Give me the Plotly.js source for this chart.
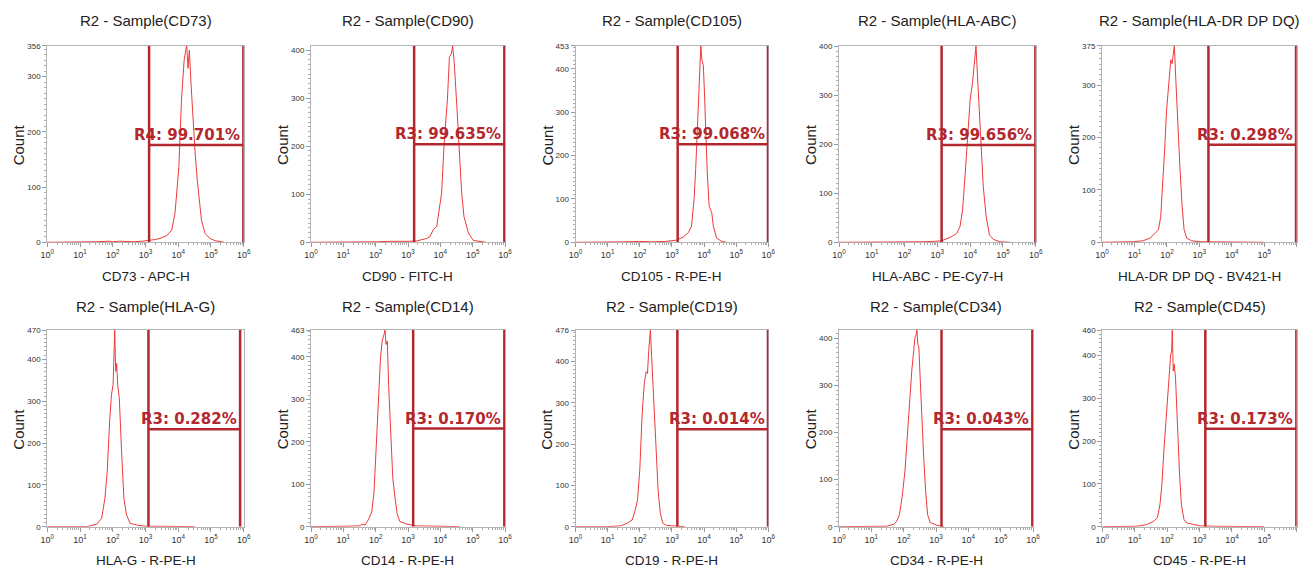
<!DOCTYPE html>
<html><head><meta charset="utf-8">
<script src="https://cdn.plot.ly/plotly-3.0.1.min.js"></script>
<style>html,body{margin:0;padding:0;background:#fff}#chart{width:1302px;height:570px}</style>
</head><body><div id="chart"></div>
<script>
// ---------- data ----------
const panelTitles = ['R2 - Sample(CD73)','R2 - Sample(CD90)','R2 - Sample(CD105)','R2 - Sample(HLA-ABC)','R2 - Sample(HLA-DR DP DQ)',
  'R2 - Sample(HLA-G)','R2 - Sample(CD14)','R2 - Sample(CD19)','R2 - Sample(CD34)','R2 - Sample(CD45)'];
const axisTitles = ['CD73 - APC-H','CD90 - FITC-H','CD105 - R-PE-H','HLA-ABC - PE-Cy7-H','HLA-DR DP DQ - BV421-H',
  'HLA-G - R-PE-H','CD14 - R-PE-H','CD19 - R-PE-H','CD34 - R-PE-H','CD45 - R-PE-H'];
const yAxisTitle = 'Count';
const gateLabels = ['R4: 99.701%','R3: 99.635%','R3: 99.068%','R3: 99.656%','R3: 0.298%',
  'R3: 0.282%','R3: 0.170%','R3: 0.014%','R3: 0.043%','R3: 0.173%'];
const gateLeftLog  = [3.11, 3.19, 3.18, 3.13, 3.28, 3.09, 3.16, 3.17, 3.17, 3.18];
const gateRightLog = [5.99, 5.98, 5.99, 5.99, 5.98, 5.89, 5.98, 5.99, 5.98, 5.99];
const gateLevel    = [176, 204, 226, 199, 186, 233, 231, 236, 207, 229];
const yTop         = [356, 409, 453, 402, 375, 470, 463, 476, 418, 460];
const yTopShown    = [true, false, true, false, true, true, true, true, false, true];
const yTickValues  = [0, 100, 200, 300, 400];
const xTickValues  = [1, 10, 100, 1000, 10000, 100000, 1000000];
const xTickLabels  = ['10<sup>0</sup>','10<sup>1</sup>','10<sup>2</sup>','10<sup>3</sup>','10<sup>4</sup>','10<sup>5</sup>','10<sup>6</sup>'];

// histogram traces: log10 intensity vs count
const cd73Log   = [0,0.5,1.0,1.5,1.9,2.0,2.2,2.4,2.63,2.9,3.14,3.3,3.44,3.55,3.65,3.8,3.9,3.97,4.02,4.10,4.18,4.23,4.26,4.30,4.34,4.39,4.44,4.51,4.58,4.66,4.71,4.82,4.97,5.12,5.28,5.4];
const cd73Count = [0,0,0,1,2,1,2,1,1,2,3,5,7,9,12,22,52,101,137,258,330,348,356,315,348,288,228,167,113,65,40,16,7,3,1,0];
const cd90Log   = [0,0.5,1.0,1.5,2.03,2.4,2.8,3.0,3.27,3.45,3.58,3.68,3.78,3.89,4.04,4.12,4.22,4.28,4.34,4.38,4.43,4.51,4.59,4.66,4.73,4.80,4.87,5.02,5.23,5.4];
const cd90Count = [0,0,0,1,1,2,1,2,3,5,8,12,26,33,103,207,298,385,392,409,374,284,193,103,54,35,19,4,1,0];
const cd105Log   = [0,0.5,1.0,1.5,2.0,2.4,2.8,3.0,3.15,3.35,3.51,3.61,3.69,3.74,3.79,3.82,3.85,3.88,3.90,3.93,3.98,4.02,4.06,4.10,4.16,4.24,4.29,4.39,4.55,4.7];
const cd105Count = [0,0,1,1,2,1,2,3,5,12,22,37,99,168,253,330,376,430,453,422,407,330,237,160,83,68,37,10,2,0];
const hlaAbcLog   = [0,0.5,1.0,1.5,2.0,2.57,2.9,3.13,3.39,3.59,3.69,3.77,3.85,3.92,4.00,4.07,4.12,4.16,4.18,4.21,4.26,4.33,4.40,4.49,4.59,4.71,4.91,5.22];
const hlaAbcCount = [0,0,0,1,1,1,2,3,10,18,32,66,141,223,291,325,359,393,402,359,291,202,114,52,15,6,1,0];
const hlaDrLog   = [0,0.5,0.97,1.27,1.48,1.63,1.74,1.81,1.87,1.93,1.99,2.06,2.12,2.16,2.20,2.23,2.28,2.34,2.40,2.47,2.53,2.61,2.76,3.02,3.5,4.0,4.5,4.87,5.0];
const hlaDrCount = [0,0,1,3,8,17,24,49,106,176,252,303,348,341,367,375,303,208,144,68,24,8,3,1,1,0,1,1,0];
const hlaGLog   = [0,0.5,1.0,1.2,1.51,1.66,1.76,1.83,1.91,1.96,2.01,2.04,2.06,2.09,2.12,2.15,2.20,2.27,2.34,2.42,2.53,2.73,3.03,3.5,4.0,4.5];
const hlaGCount = [0,0,1,0,6,20,68,131,259,315,339,418,470,371,390,339,307,179,68,28,8,4,1,1,1,0];
const cd14Log   = [0,0.5,1.0,1.52,1.57,1.67,1.77,1.88,1.95,2.01,2.05,2.11,2.15,2.20,2.26,2.29,2.32,2.36,2.40,2.46,2.53,2.60,2.67,2.75,2.96,3.27,3.58,3.99,4.6];
const cd14Count = [0,0,1,2,6,4,16,35,83,177,256,335,398,437,453,463,429,437,335,217,114,67,28,12,6,2,1,1,0];
const cd19Log   = [0,0.5,1.0,1.40,1.60,1.76,1.86,1.93,2.00,2.07,2.14,2.20,2.24,2.28,2.33,2.37,2.41,2.46,2.51,2.57,2.64,2.72,2.84,3.15,3.4];
const cd19Count = [0,0,0,2,8,16,40,65,137,266,347,375,371,427,476,411,347,266,169,89,32,8,3,1,0];
const cd34Log   = [0,0.5,1.0,1.48,1.69,1.79,1.87,1.95,2.04,2.12,2.18,2.25,2.31,2.35,2.39,2.41,2.44,2.47,2.51,2.56,2.62,2.68,2.74,2.82,3.03,3.24];
const cd34Count = [0,0,0,1,5,12,26,62,118,204,274,331,374,402,409,418,387,381,316,232,147,76,26,9,3,0];
const cd45Log   = [0,0.5,1.0,1.16,1.37,1.57,1.70,1.78,1.84,1.90,1.97,2.03,2.07,2.11,2.14,2.16,2.19,2.22,2.26,2.31,2.38,2.44,2.52,2.60,2.81,3.01,3.5,4.0,4.87,5.0];
const cd45Count = [0,0,1,2,5,12,21,52,99,177,255,333,356,402,411,460,364,380,348,239,130,52,17,9,5,2,1,1,1,0];

const histLog   = [cd73Log, cd90Log, cd105Log, hlaAbcLog, hlaDrLog, hlaGLog, cd14Log, cd19Log, cd34Log, cd45Log];
const histCount = [cd73Count, cd90Count, cd105Count, hlaAbcCount, hlaDrCount, hlaGCount, cd14Count, cd19Count, cd34Count, cd45Count];

// ---------- layout ----------
const W = 1302, H = 570;
const colPxRow = [
  [[47.3,243.7],[311,505],[575.5,768.3],[839,1035.7],[1102,1296.7]],
  [[47.3,243.7],[311,505],[575.5,768.3],[839,1033],[1102.3,1296.7]]
];
const rowPx = [[45.7,242.3],[330,526.7]];
const titleY = [20, 306], xTitleY = [276, 560.5];
const lineRed = '#ee3a3a', gateRed = '#b3272e';
const sans = 'Liberation Sans, Arial, sans-serif';

const minorX = [];
for (let d = 0; d < 6; d++) for (let k = 2; k <= 9; k++) minorX.push(k * Math.pow(10, d));

const traces = [];
const layout = {
  width: W, height: H, margin: {l:0, r:0, t:0, b:0}, showlegend: false,
  paper_bgcolor: '#fff', plot_bgcolor: '#fff', annotations: []
};

for (let i = 0; i < 10; i++) {
  const r = Math.floor(i / 5), c = i % 5;
  const cx = colPxRow[r][c], ry = rowPx[r];
  const s = i === 0 ? '' : String(i + 1);
  const top = yTop[i];
  const yv = yTickValues.filter(v => v <= top && (!yTopShown[i] || top - v > 25));
  const yt = yv.map(String);
  if (yTopShown[i]) { yv.push(top); yt.push(String(top)); }
  const minorY = [];
  for (let v = 10; v < top; v += 10) if (v % 100 !== 0) minorY.push(v);

  layout['xaxis' + s] = {
    domain: [cx[0] / W, cx[1] / W], anchor: 'y' + s, type: 'log', range: [0, 6],
    tickmode: 'array', tickvals: xTickValues, ticktext: xTickLabels,
    ticks: 'outside', ticklen: 4, tickcolor: '#999', tickwidth: 1,
    showline: true, linecolor: '#b4b4b4', linewidth: 1, mirror: true,
    showgrid: false, zeroline: false, layer: 'below traces', fixedrange: true,
    tickfont: {family: sans, size: 9, color: '#333'},
    minor: {tickmode: 'array', tickvals: minorX, ticks: 'outside', ticklen: 2, tickcolor: '#aaa', showgrid: false}
  };
  layout['yaxis' + s] = {
    domain: [1 - ry[1] / H, 1 - ry[0] / H], anchor: 'x' + s, range: [0, top],
    tickmode: 'array', tickvals: yv, ticktext: yt,
    ticks: 'outside', ticklen: 4, tickcolor: '#999', tickwidth: 1,
    showline: true, linecolor: '#b4b4b4', linewidth: 1, mirror: true,
    showgrid: false, zeroline: false, layer: 'below traces', fixedrange: true,
    tickfont: {family: sans, size: 8, color: '#333'},
    minor: {tickmode: 'array', tickvals: minorY, ticks: 'outside', ticklen: 2, tickcolor: '#aaa', showgrid: false}
  };

  traces.push({
    type: 'scatter', mode: 'lines', xaxis: 'x' + s, yaxis: 'y' + s,
    x: histLog[i].map(v => Math.pow(10, v)), y: histCount[i],
    line: {color: lineRed, width: 1}, hoverinfo: 'skip'
  });
  const L = Math.pow(10, gateLeftLog[i]), R = Math.pow(10, gateRightLog[i]);
  traces.push({
    type: 'scatter', mode: 'lines', xaxis: 'x' + s, yaxis: 'y' + s,
    x: [L, L, null, L, R, null, R, R],
    y: [0, top, null, gateLevel[i], gateLevel[i], null, 0, top],
    line: {color: gateRed, width: 2.5}, hoverinfo: 'skip'
  });

  const xmid = (cx[0] + cx[1]) / 2 / W;
  layout.annotations.push({
    xref: 'paper', yref: 'paper', x: xmid, y: 1 - titleY[r] / H, xanchor: 'center', yanchor: 'middle',
    text: panelTitles[i], showarrow: false, font: {family: sans, size: 15, color: '#222'}
  });
  layout.annotations.push({
    xref: 'paper', yref: 'paper', x: xmid, y: 1 - xTitleY[r] / H, xanchor: 'center', yanchor: 'middle',
    text: axisTitles[i], showarrow: false, font: {family: sans, size: 13.5, color: '#222'}
  });
  layout.annotations.push({
    xref: 'paper', yref: 'paper', x: cx[0] / W, y: 1 - ((ry[0] + ry[1]) / 2 + 1) / H, xanchor: 'center', yanchor: 'middle',
    xshift: -29, textangle: -90, text: yAxisTitle, showarrow: false, font: {family: sans, size: 15, color: '#222'}
  });
  layout.annotations.push({
    xref: 'x' + s, yref: 'y' + s, x: gateRightLog[i], y: gateLevel[i], xanchor: 'right', yanchor: 'bottom',
    xshift: -2, yshift: 0, borderpad: 0,
    text: '<b>' + gateLabels[i] + '</b>', showarrow: false,
    font: {family: 'DejaVu Sans, sans-serif', size: 15, color: gateRed}
  });
}

Plotly.newPlot('chart', traces, layout, {staticPlot: true, displayModeBar: false});
</script>
</body></html>
